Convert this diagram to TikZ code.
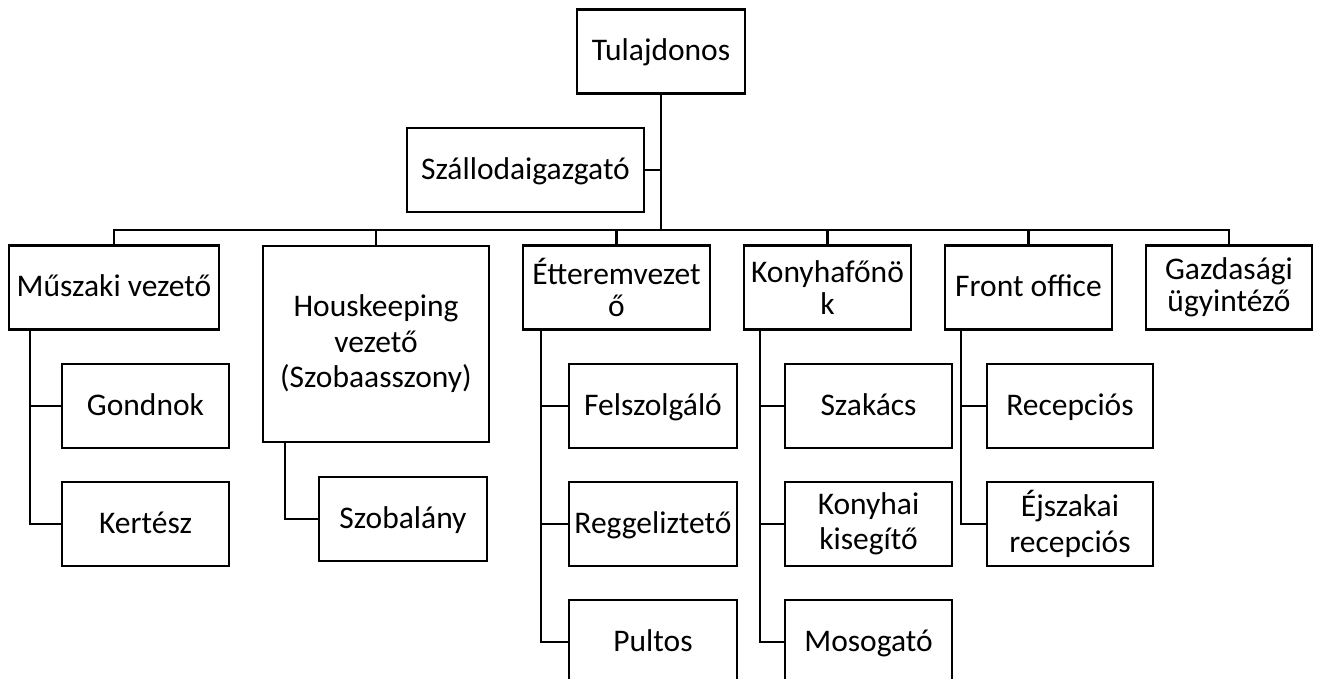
\documentclass[tikz,border=0pt]{standalone}
\usepackage{fontspec}
\setmainfont{Carlito}
\begin{document}
\begin{tikzpicture}[x=1pt,y=-1pt]
\tikzstyle{every node}=[font=\fontsize{31.5}{35.5}\selectfont]
\tikzstyle{box}=[draw,line width=2.3pt,rectangle,inner sep=0pt,align=center,minimum height=84pt]
\tikzstyle{one}=[text height=24pt,text depth=6pt]
\tikzstyle{link}=[line width=2.3pt]
\clip (0,0) rectangle (1319,678);
%%% top
\node[box,one,minimum width=168pt] (tul) at (661,51.5) {Tulajdonos};
\node[box,one,minimum width=237pt] (szall) at (525.5,170) {Szállodaigazgató};
%%% first row
\node[box,one,minimum width=210pt] (musz) at (114,287.5) {Műszaki vezető};
\node[box,minimum width=226pt,minimum height=196pt] (hous) at (376,344) {Houskeeping\\vezető\\(Szobaasszony)};
\node[box,minimum width=187pt] (etterem) at (616.5,287.5) {Étteremvezet\\[-3pt]ő};
\node[box,minimum width=167pt] (konyha) at (827.5,287.5) {Konyhafőnö\\[-3pt]k};
\node[box,one,minimum width=167pt] (front) at (1028.5,287.5) {Front office};
\node[box,minimum width=166pt] (gazd) at (1229,287.5) {Gazdasági\\[-3pt]ügyintéző};
%%% second level
\node[box,one,minimum width=167pt] (gondnok) at (145.5,406) {Gondnok};
\node[box,one,minimum width=167pt] (kertesz) at (145.5,524) {Kertész};
\node[box,one,minimum width=168pt] (szobalany) at (403,519) {Szobalány};
\node[box,one,minimum width=168pt] (felszolgalo) at (653,406) {Felszolgáló};
\node[box,one,minimum width=168pt] (reggeliztet) at (653,524) {Reggeliztető};
\node[box,one,minimum width=168pt] (pultos) at (653,642) {Pultos};
\node[box,one,minimum width=167pt] (szakacs) at (868.5,406) {Szakács};
\node[box,minimum width=167pt] (kisegito) at (868.5,524) {Konyhai\\kisegítő};
\node[box,one,minimum width=167pt] (mosogato) at (868.5,642) {Mosogató};
\node[box,one,minimum width=166pt] (recepcios) at (1070,406) {Recepciós};
\node[box,minimum width=166pt] (ejszakai) at (1070,524) {Éjszakai\\recepciós};
%%% connectors
\draw[link,line width=2.9pt] (tul.south) -- ++(0,135.5) coordinate (bus);
\draw[link] (szall.east) -- (szall.east -| bus);
\draw[link] (musz.north) |- (bus) -| (gazd.north);
\foreach \n in {hous,etterem,konyha,front}{\draw[link] (\n.north) -- (\n.north |- bus);}
\foreach \k in {gondnok,kertesz}{\draw[link] ([xshift=22pt]musz.south west) |- (\k.west);}
\draw[link] ([xshift=23pt]hous.south west) |- (szobalany.west);
\foreach \k in {felszolgalo,reggeliztet,pultos}{\draw[link] ([xshift=19pt]etterem.south west) |- (\k.west);}
\foreach \k in {szakacs,kisegito,mosogato}{\draw[link] ([xshift=17pt]konyha.south west) |- (\k.west);}
\foreach \k in {recepcios,ejszakai}{\draw[link] ([xshift=17pt]front.south west) |- (\k.west);}
\end{tikzpicture}
\end{document}
